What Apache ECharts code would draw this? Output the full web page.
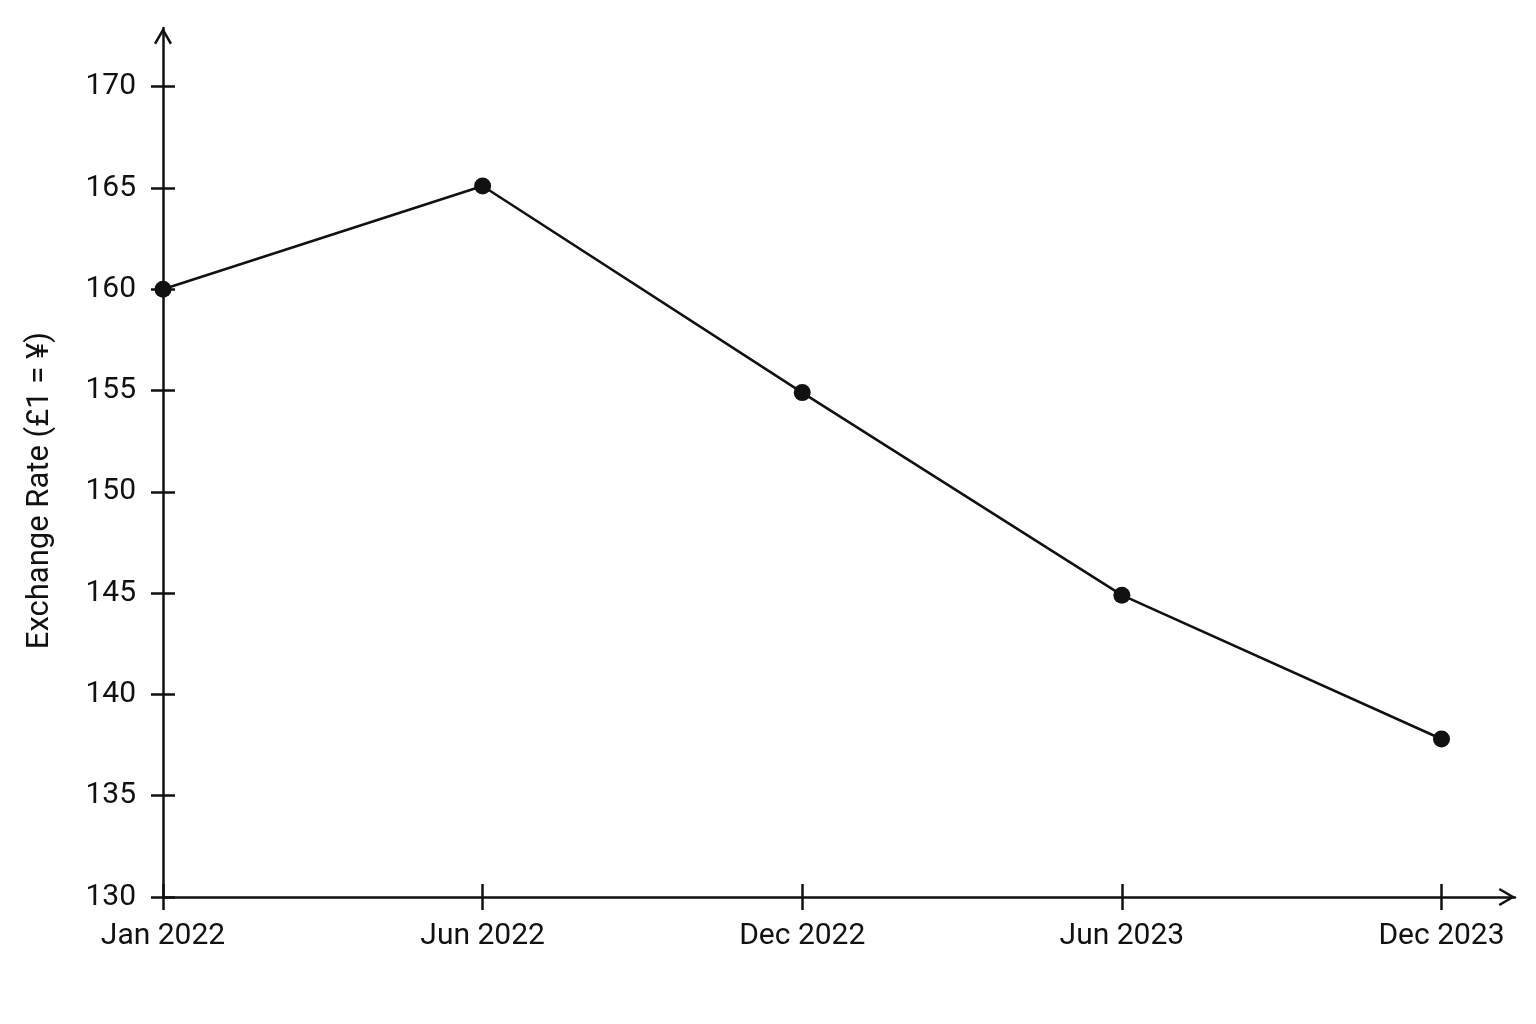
<!DOCTYPE html>
<html>
<head>
<meta charset="utf-8">
<script src="https://cdn.jsdelivr.net/npm/echarts@6/dist/echarts.min.js"></script>
<style>
  html, body { margin: 0; padding: 0; background: #fff; }
  #chart { width: 1536px; height: 1024px; }
</style>
</head>
<body>
<div id="chart"></div>
<script>
// data
var categories = ['Jan 2022', 'Jun 2022', 'Dec 2022', 'Jun 2023', 'Dec 2023'];
var rates = [160, 165.1, 154.9, 144.9, 137.8];
var yTicks = [130, 135, 140, 145, 150, 155, 160, 165, 170];

var xIdx = categories.map(function (c, i) { return i; });
var points = rates.map(function (v, i) { return [i, v]; });

// open chevron arrow head (points up, rotated by echarts along the axis)
var chevron = 'path://M9,0 L18,15.5 L15.9,16.8 L9,4.8 L2.1,16.8 L0,15.5 Z';
var ink = '#111';
var font = 'Roboto, sans-serif';

var chart = echarts.init(document.getElementById('chart'));
chart.setOption({
    backgroundColor: '#ffffff',
    animation: false,
    grid: { left: 163, right: 21, top: 28, bottom: 127, outerBoundsMode: 'none' },
    xAxis: [
        {
            type: 'value', min: 0, max: 4.23, position: 'bottom',
            splitLine: { show: false },
            axisLine: {
                lineStyle: { color: ink, width: 2.5 },
                symbol: ['none', chevron], symbolSize: [18, 17], symbolOffset: [0, -8]
            },
            axisTick: { length: 13, lineStyle: { color: ink, width: 2.5 }, customValues: xIdx },
            axisLabel: {
                customValues: xIdx, margin: 24, fontSize: 30, color: ink, fontFamily: font,
                formatter: function (v) { return categories[Math.round(v)]; }
            }
        },
        {
            type: 'value', min: 0, max: 4.23, position: 'bottom', offset: 0,
            splitLine: { show: false }, axisLine: { show: false }, axisLabel: { show: false },
            axisTick: { inside: true, length: 13, lineStyle: { color: ink, width: 2.5 }, customValues: xIdx }
        }
    ],
    yAxis: [
        {
            type: 'value', min: 130, max: 172.9, position: 'left',
            splitLine: { show: false },
            axisLine: {
                show: true,
                lineStyle: { color: ink, width: 2.5 },
                symbol: ['none', chevron], symbolSize: [18, 17], symbolOffset: [0, -8]
            },
            axisTick: { show: true, length: 12, lineStyle: { color: ink, width: 2.5 }, customValues: yTicks },
            axisLabel: { customValues: yTicks, margin: 27, fontSize: 30, color: ink, fontFamily: font },
            name: 'Exchange Rate (£1 = ¥)',
            nameLocation: 'middle',
            nameGap: 107,
            nameTextStyle: { fontSize: 31, color: ink, fontFamily: font, padding: [0, 56, 0, 0] }
        },
        {
            type: 'value', min: 130, max: 172.9, position: 'left', offset: 0,
            splitLine: { show: false }, axisLine: { show: false }, axisLabel: { show: false },
            axisTick: { show: true, inside: true, length: 12, lineStyle: { color: ink, width: 2.5 }, customValues: yTicks }
        }
    ],
    series: [{
        type: 'line',
        data: points,
        symbol: 'circle',
        symbolSize: 17,
        lineStyle: { color: ink, width: 2.5 },
        itemStyle: { color: ink },
        z: 5
    }]
});
</script>
</body>
</html>
